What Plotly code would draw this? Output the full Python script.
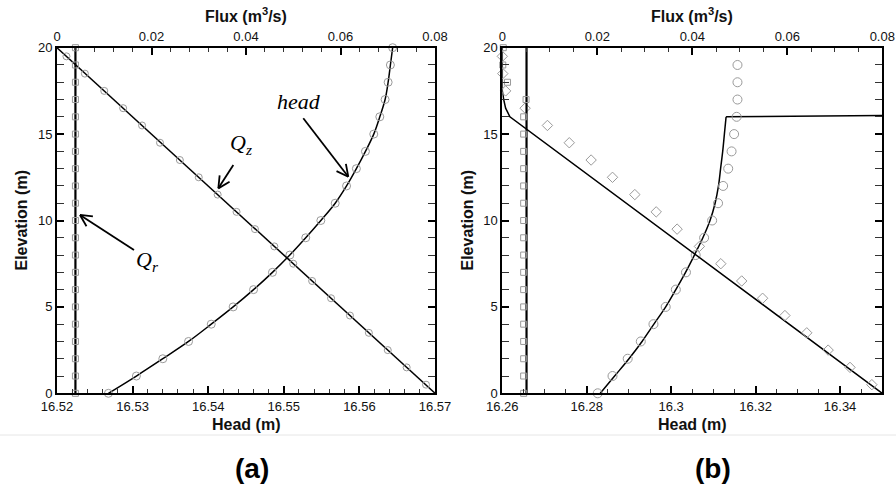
import math
import plotly.graph_objects as go

# ---------------- data ----------------
elev_int = list(range(0, 21))
elev_half = [19.5 - i for i in range(20)]

# panel (a)
head_a = [16.5268, 16.5305, 16.5340, 16.5374, 16.5404, 16.5433, 16.5460, 16.5485,
          16.5508, 16.5529, 16.5549, 16.5568, 16.5583, 16.5596, 16.5608, 16.5619,
          16.5627, 16.5634, 16.5638, 16.5641, 16.5644]
qz_a_line_flux = [0.0, 0.08]
qz_a_line_elev = [20, 0]
qz_a_pts = [0.0020, 0.0059, 0.0100, 0.0140, 0.0180, 0.0218, 0.0260, 0.0300, 0.0340, 0.0380,
            0.0419, 0.0460, 0.0500, 0.0540, 0.0580, 0.0620, 0.0660, 0.0700, 0.0740, 0.0781]
qr_a_line_flux = [0.0039, 0.0039]
qr_a_line_elev = [0, 20]
qr_a_pts = [0.0039] * 21

# panel (b)
head_b_line_elev = list(range(0, 17))
head_b_line = [16.2832, 16.2866, 16.2900, 16.2931, 16.2959, 16.2987, 16.3011, 16.3034,
               16.3055, 16.3075, 16.3092, 16.3104, 16.3112, 16.3117, 16.3122, 16.3126, 16.3130]
head_b_jump_x = [16.3130, 16.35]
head_b_jump_elev = [16.0, 16.08]
head_b_pts_elev = list(range(0, 20))
head_b_pts = [16.2826, 16.2861, 16.2897, 16.2928, 16.2958, 16.2987, 16.3011, 16.3035,
              16.3058, 16.3078, 16.3097, 16.3111, 16.3123, 16.3135, 16.3143, 16.3149,
              16.3155, 16.3157, 16.3157, 16.3157]
qz_b_line_flux = [0.0, 0.0, 0.0003, 0.0007, 0.0016, 0.08]
qz_b_line_elev = [20, 17.5, 17.0, 16.5, 16.0, 0]
qz_b_pts = [0.0000, 0.0001, 0.0007, 0.0048, 0.0095, 0.0141, 0.0187, 0.0232, 0.0279, 0.0324,
            0.0368, 0.0415, 0.0460, 0.0504, 0.0548, 0.0595, 0.0641, 0.0686, 0.0732, 0.0778]
qr_b_line_flux = [0.0051, 0.0051]
qr_b_line_elev = [0, 20]
qr_b_pts = [0.0045] * 17 + [0.0050, 0.0011, 0.0001, 0.0002]

# ticks
head_a_ticks = [16.52, 16.53, 16.54, 16.55, 16.56, 16.57]
head_a_labels = ["16.52", "16.53", "16.54", "16.55", "16.56", "16.57"]
head_b_ticks = [16.26, 16.28, 16.30, 16.32, 16.34]
head_b_labels = ["16.26", "16.28", "16.3", "16.32", "16.34"]
flux_ticks = [0, 0.02, 0.04, 0.06, 0.08]
flux_labels = ["0", "0.02", "0.04", "0.06", "0.08"]
elev_ticks = [0, 5, 10, 15, 20]
elev_labels = ["0", "5", "10", "15", "20"]

# ---------------- layout geometry ----------------
W, H = 896, 493
LA = (57, 435)
LB = (502.3, 882.3)
TOP, BOT = 47.7, 393.3
HEAD_A_RANGE = [16.52, 16.57]
ELEV_RANGE = [0, 20]


def px(v):
    return v / W


def py(v):
    return 1 - v / H


GRAY = "#9a9a9a"
TICKFONT = dict(family="Liberation Sans, Arial, sans-serif", size=13, color="#111")
TITLEFONT = dict(family="Liberation Sans, Arial, sans-serif", size=16, color="#111")

fig = go.Figure()

# panel (a) traces
fig.add_trace(go.Scatter(x=head_a, y=elev_int, mode="lines", line=dict(color="black", width=1.5, shape="spline"),
                         xaxis="x", yaxis="y"))
fig.add_trace(go.Scatter(x=head_a, y=elev_int, mode="markers", cliponaxis=False,
                         marker=dict(symbol="circle-open", size=8, color=GRAY, line=dict(width=1)),
                         xaxis="x", yaxis="y"))
fig.add_trace(go.Scatter(x=qz_a_line_flux, y=qz_a_line_elev, mode="lines", line=dict(color="black", width=1.5),
                         xaxis="x2", yaxis="y"))
fig.add_trace(go.Scatter(x=qz_a_pts, y=elev_half, mode="markers", cliponaxis=False,
                         marker=dict(symbol="circle-open", size=7, color=GRAY, line=dict(width=1)),
                         xaxis="x2", yaxis="y"))
fig.add_trace(go.Scatter(x=qr_a_line_flux, y=qr_a_line_elev, mode="lines", line=dict(color="black", width=2.2),
                         xaxis="x2", yaxis="y"))
fig.add_trace(go.Scatter(x=qr_a_pts, y=elev_int, mode="markers", cliponaxis=False,
                         marker=dict(symbol="square-open", size=6, color=GRAY, line=dict(width=1)),
                         xaxis="x2", yaxis="y"))

# panel (b) traces
fig.add_trace(go.Scatter(x=head_b_line, y=head_b_line_elev, mode="lines",
                         line=dict(color="black", width=1.5, shape="spline"), xaxis="x3", yaxis="y2"))
fig.add_trace(go.Scatter(x=head_b_jump_x, y=head_b_jump_elev, mode="lines",
                         line=dict(color="black", width=1.5), xaxis="x3", yaxis="y2"))
fig.add_trace(go.Scatter(x=head_b_pts, y=head_b_pts_elev, mode="markers", cliponaxis=False,
                         marker=dict(symbol="circle-open", size=9, color=GRAY, line=dict(width=1)),
                         xaxis="x3", yaxis="y2"))
fig.add_trace(go.Scatter(x=qz_b_line_flux, y=qz_b_line_elev, mode="lines", line=dict(color="black", width=1.5),
                         xaxis="x4", yaxis="y2"))
fig.add_trace(go.Scatter(x=qz_b_pts, y=elev_half, mode="markers", cliponaxis=False,
                         marker=dict(symbol="diamond-open", size=8, color=GRAY, line=dict(width=1)),
                         xaxis="x4", yaxis="y2"))
fig.add_trace(go.Scatter(x=qr_b_line_flux, y=qr_b_line_elev, mode="lines", line=dict(color="black", width=2.2),
                         xaxis="x4", yaxis="y2"))
fig.add_trace(go.Scatter(x=qr_b_pts, y=elev_int, mode="markers", cliponaxis=False,
                         marker=dict(symbol="square-open", size=6, color=GRAY, line=dict(width=1)),
                         xaxis="x4", yaxis="y2"))


def axis(rng, tv, tt, minor_dtick, dom=None, **kw):
    d = dict(range=rng, tickvals=tv, ticktext=tt, showline=True, linecolor="black", linewidth=2,
             ticks="inside", ticklen=7, tickwidth=1.5, tickcolor="black", showgrid=False, zeroline=False,
             tickfont=TICKFONT, fixedrange=True, automargin=False,
             minor=dict(ticks="inside", ticklen=4, tickwidth=1, tickcolor="#333", dtick=minor_dtick,
                        tick0=rng[0], showgrid=False))
    if dom is not None:
        d["domain"] = dom
    d.update(kw)
    return d


ydom = [py(BOT), py(TOP)]
fig.update_layout(
    width=W, height=H, margin=dict(l=0, r=0, t=0, b=0, pad=0, autoexpand=False), autosize=False,
    paper_bgcolor="white", plot_bgcolor="white", showlegend=False,
    xaxis=axis(HEAD_A_RANGE, head_a_ticks, head_a_labels, 0.002, [px(LA[0]), px(LA[1])],
               anchor="y", side="bottom", ticklabelstandoff=0),
    xaxis2=axis([0, 0.08], flux_ticks, flux_labels, 0.004, None,
                anchor="y", overlaying="x", side="top"),
    yaxis=axis(ELEV_RANGE, elev_ticks, elev_labels, 1, ydom, anchor="x", mirror="allticks"),
    xaxis3=axis([16.26, 16.35], head_b_ticks, head_b_labels, 0.005, [px(LB[0]), px(LB[1])],
                anchor="y2", side="bottom", ticklabelstandoff=0),
    xaxis4=axis([0, 0.08], flux_ticks, flux_labels, 0.005, None,
                anchor="y2", overlaying="x3", side="top"),
    yaxis2=axis(ELEV_RANGE, elev_ticks, elev_labels, 1, ydom, anchor="x3", mirror="allticks"),
)

ann = []
# axis titles
for cx in [(LA[0] + LA[1]) / 2, (LB[0] + LB[1]) / 2]:
    ann.append(dict(xref="paper", yref="paper", x=px(cx), y=py(15), text="<b>Flux (m<sup>3</sup>/s)</b>",
                    showarrow=False, xanchor="center", yanchor="middle", font=TITLEFONT))
    ann.append(dict(xref="paper", yref="paper", x=px(cx), y=py(424), text="<b>Head (m)</b>",
                    showarrow=False, xanchor="center", yanchor="middle", font=TITLEFONT))
for ex in [21, 467]:
    ann.append(dict(xref="paper", yref="paper", x=px(ex), y=py((TOP + BOT) / 2), text="<b>Elevation (m)</b>",
                    showarrow=False, xanchor="center", yanchor="middle", textangle=-90, font=TITLEFONT))
ann.append(dict(xref="paper", yref="paper", x=px(252), y=py(468), text="<b>(a)</b>", showarrow=False,
                xanchor="center", yanchor="middle", font=dict(family="Liberation Sans, Arial", size=28, color="black")))
ann.append(dict(xref="paper", yref="paper", x=px(713), y=py(468), text="<b>(b)</b>", showarrow=False,
                xanchor="center", yanchor="middle", font=dict(family="Liberation Sans, Arial", size=28, color="black")))

# curve labels
SERIF = dict(family="Liberation Serif, Times New Roman, serif", size=22, color="black")
ann.append(dict(xref="x", yref="y", x=16.5520, y=16.9, text="<i>head</i>", showarrow=False, font=SERIF))
ann.append(dict(xref="x", yref="y", x=16.5444, y=14.43, text="<i>Q<sub>z</sub></i>", showarrow=False, font=SERIF))
ann.append(dict(xref="x", yref="y", x=16.5320, y=7.65, text="<i>Q<sub>r</sub></i>", showarrow=False, font=SERIF))
fig.update_layout(annotations=ann)

# arrows (pointer lines) drawn as shapes in panel (a) data coordinates
XPP = (HEAD_A_RANGE[1] - HEAD_A_RANGE[0]) / (LA[1] - LA[0])   # data per pixel, x
YPP = (ELEV_RANGE[1] - ELEV_RANGE[0]) / (BOT - TOP)           # data per pixel, y


def arrow(x, y, ax, ay, wing=13, ang=27):
    style = dict(type="line", xref="x", yref="y", line=dict(color="black", width=1.8))
    fig.add_shape(style, x0=x, y0=y, x1=x + ax * XPP, y1=y - ay * YPP)
    L = math.hypot(ax, ay)
    ux, uy = ax / L, ay / L
    for s in (1, -1):
        a = math.radians(ang * s)
        wx = ux * math.cos(a) - uy * math.sin(a)
        wy = ux * math.sin(a) + uy * math.cos(a)
        fig.add_shape(style, x0=x, y0=y, x1=x + wx * wing * XPP, y1=y - wy * wing * YPP)


arrow(16.55853, 12.535, -45, -58.4)
arrow(16.54134, 11.86, 15, -23.3)
arrow(16.52304, 10.32, 54, 35)

fig.add_shape(type="line", xref="paper", yref="paper", x0=0, x1=1, y0=py(435), y1=py(435),
              line=dict(color="#e6e6e6", width=1))

fig.write_html("out.html")
